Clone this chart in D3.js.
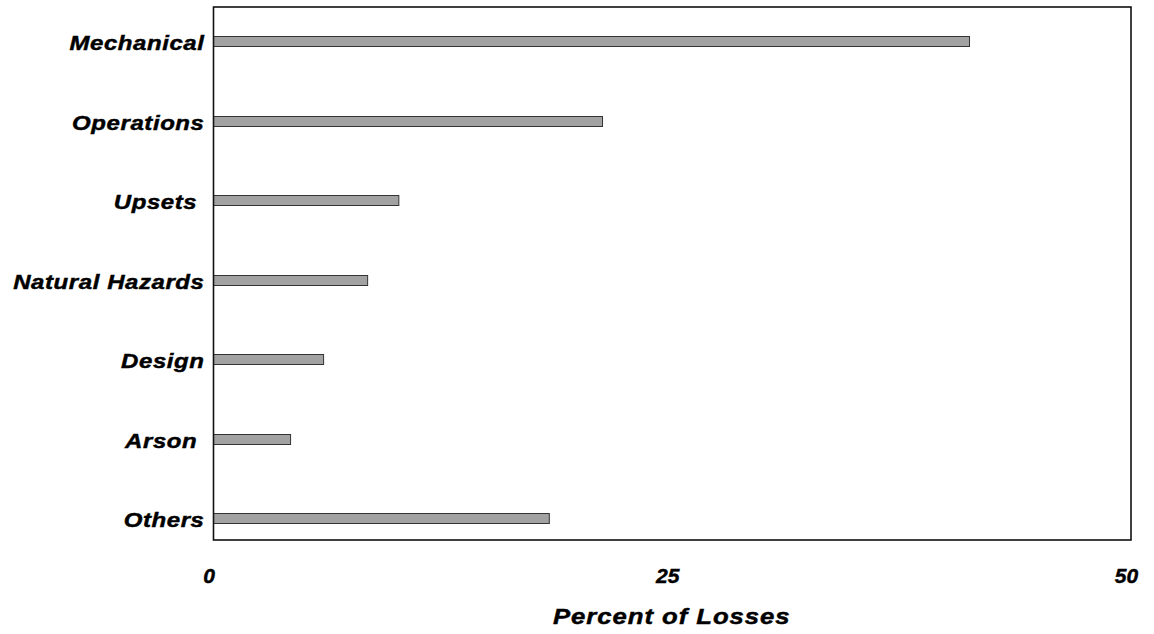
<!DOCTYPE html>
<html>
<head>
<meta charset="utf-8">
<script src="https://cdn.jsdelivr.net/npm/d3@7"></script>
<style>
  html, body { margin: 0; padding: 0; background: #fff; }
  svg { display: block; }
  text { font-family: "Liberation Sans", Arial, sans-serif; font-weight: bold; font-style: italic; fill: #000; white-space: pre; stroke: #000; stroke-width: 0.45px; }
</style>
</head>
<body>
<svg id="chart" width="1154" height="634"></svg>
<script>
const categories = ["Mechanical", "Operations", "Upsets ", "Natural Hazards", "Design", "Arson ", "Others"];
const values = [41.2, 21.2, 10.1, 8.4, 6.0, 4.2, 18.3];
const xTicks = [0, 25, 50];
const xTitle = "Percent of Losses";

const plot = { left: 213.5, right: 1131, top: 7, bottom: 540 };
const stretch = 1.17;

const svg = d3.select("#chart");

const x = d3.scaleLinear().domain([0, 50]).range([plot.left, plot.right]);
const y = d3.scalePoint().domain(categories).range([41, 518]).padding(0);
const barH = 10;

// bars
svg.append("g").selectAll("rect")
  .data(categories.map((c, i) => ({ c, v: values[i] })))
  .join("rect")
  .attr("x", x(0))
  .attr("y", d => Math.round(y(d.c) - barH / 2) + 0.5)
  .attr("width", d => x(d.v) - x(0))
  .attr("height", barH)
  .attr("fill", "#a2a2a2")
  .attr("stroke", "#333")
  .attr("stroke-width", 1);

// frame
svg.append("rect")
  .attr("x", plot.left).attr("y", plot.top)
  .attr("width", plot.right - plot.left).attr("height", plot.bottom - plot.top)
  .attr("fill", "none").attr("stroke", "#111").attr("stroke-width", 1.6);

// category labels (y axis)
const yAxis = d3.axisLeft(y).tickSize(0).tickPadding(8);
const yg = svg.append("g").attr("transform", `translate(${plot.left},2)`).call(yAxis);
yg.select(".domain").remove();
yg.selectAll("text")
  .attr("font-size", 20.5)
  .attr("x", -9 / stretch)
  .attr("transform", `scale(${stretch},1)`)
  .style("letter-spacing", "0.5px")
  .attr("font-family", null);

// x tick labels
const xAxis = d3.axisBottom(x).tickValues(xTicks).tickSize(0).tickPadding(0);
const xg = svg.append("g").attr("transform", `translate(-5,${plot.bottom + 28})`).call(xAxis);
xg.select(".domain").remove();
xg.selectAll("text")
  .attr("font-size", 21)
  .attr("dy", "0.71em")
  .attr("font-family", null);

// x title
const cx = (plot.left + plot.right) / 2 - 0.5;
svg.append("text")
  .attr("transform", `translate(${cx},624) scale(${stretch},1)`)
  .attr("text-anchor", "middle")
  .attr("font-size", 22)
  .style("letter-spacing", "0.8px")
  .text(xTitle);
</script>
</body>
</html>
